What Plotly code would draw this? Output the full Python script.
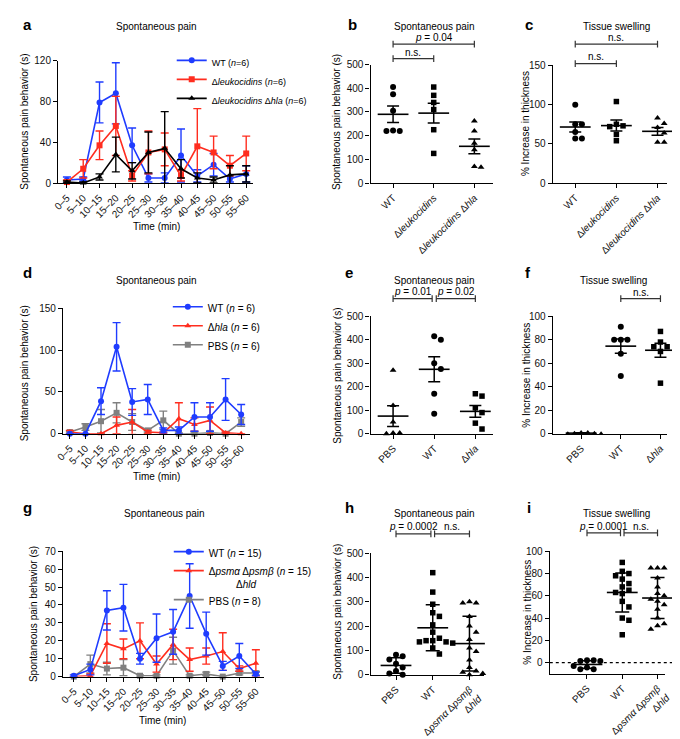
import plotly.graph_objects as go

# ---------------- data ----------------
TIME = ["0–5", "5–10", "10–15", "15–20", "20–25", "25–30",
        "30–35", "35–40", "40–45", "45–50", "50–55", "55–60"]

# panel a
a_wt = [3, 4, 79, 88, 37, 5, 5, 27, 7, 18, 4, 9]
a_wt_err = [3, 2, 20, 30, 17, 4, 5, 26, 6, 11, 3, 8]
a_leuk = [1, 14, 37, 56, 7, 30, 33, 7, 36, 30, 17, 29]
a_leuk_err = [2, 9, 14, 29, 5, 21, 16, 5, 37, 16, 10, 17]
a_dbl = [1, 0, 6, 28, 12, 30, 34, 14, 5, 3, 8, 9]
a_dbl_err = [1, 1, 3, 17, 8, 20, 36, 9, 5, 3, 9, 8]

# panel d
d_wt = [0, 0, 39, 104, 38, 41, 4, 4, 20, 20, 41, 23]
d_wt_err = [0, 0, 16, 29, 16, 18, 3, 4, 17, 17, 25, 12]
d_hla = [2, 0, 0, 10, 14, 2, 1, 18, 11, 16, 1, 0]
d_hla_err = [2, 0, 0, 10, 15, 2, 1, 19, 8, 16, 1, 0]
d_pbs = [2, 8, 15, 25, 14, 4, 16, 0, 0, 1, 0, 14]
d_pbs_err = [1, 4, 14, 12, 10, 2, 11, 1, 1, 2, 1, 5]

# panel g
g_wt = [0.5, 4, 37, 38.5, 10, 21.5, 25, 45, 24, 6, 11.5, 1.5]
g_wt_err = [0.5, 3, 11, 13, 3, 13.5, 12.5, 18, 12, 2.5, 7, 1]
g_psm = [0, 0.5, 18.5, 15.5, 20, 7, 18, 9.5, 11.5, 14, 4.5, 7.5]
g_psm_err = [0, 1, 11, 5.5, 10, 4.5, 8.5, 6.5, 4.5, 10.5, 1.5, 7.5]
g_pbs = [0, 7, 4.5, 5, 0.5, 0.5, 14.5, 0.5, 1.5, 0, 2, 2]
g_pbs_err = [0, 5, 3.5, 4.5, 0.5, 0.5, 7.5, 0.5, 1, 0.3, 1, 1]

# panel b
b_groups = ["WT", "Δ<i>leukocidins</i>", "Δ<i>leukocidins</i> Δ<i>hla</i>"]
b_wt = [405, 375, 305, 222, 220, 220]
b_leuk = [405, 370, 340, 310, 225, 125]
b_dbl = [262, 220, 168, 140, 70, 67]
b_mean = [290, 295, 155]
b_err = [35, 42, 31]

# panel c
c_groups = b_groups
c_wt = [100, 75, 75, 65, 57, 57]
c_leuk = [104, 75, 73, 72, 62, 54]
c_dbl = [83, 76, 71, 64, 52, 52]
c_mean = [71.5, 73.3, 66]
c_err = [6.5, 7, 5]

# panel e
e_groups = ["PBS", "WT", "Δ<i>hla</i>"]
e_pbs = [270, 120, 50, 3, 0, 3]
e_wt = [415, 400, 300, 275, 170, 85]
e_hla = [170, 160, 110, 90, 45, 20]
e_mean = [75, 274, 95]
e_err = [44, 53, 25]

# panel f
f_groups = e_groups
f_pbs = [1, 0.5, 0, 0, 0.5, 1]
f_wt = [91, 80, 80, 80, 68, 49]
f_hla = [87, 78, 74, 74, 70, 43]
f_mean = [0.5, 74.5, 71]
f_err = [0.3, 6, 6]

# panel h
h_groups = ["PBS", "WT", "Δ<i>psmα</i> Δ<i>psmβ</i><br>Δ<i>hld</i>"]
h_pbs = [82, 76, 62, 45, 30, 15, 5, 0]
h_wt = [420, 340, 290, 255, 240, 205, 175, 150, 140, 140, 135, 135, 130, 110, 85]
h_psm = [300, 295, 295, 240, 200, 175, 145, 110, 95, 60, 30, 15, 10, 5, 0]
h_mean = [38, 193, 128]
h_err = [32, 95, 113]

# panel i
i_groups = h_groups
i_pbs = [2, 2, 1.5, 1.5, -3, -4.5, -6, -6]
i_wt = [90, 82, 80, 78, 75, 71, 68, 65, 63, 62, 55, 50, 40, 38, 25]
i_psm = [85, 85, 85, 76, 68, 62, 60, 57, 55, 52, 48, 40, 35, 33, 30]
i_mean = [-1.7, 63, 58]
i_err = [3.3, 17.5, 18.5]

# ---------------- layout helpers ----------------
W, H = 680, 739
FONT = "Liberation Sans, Arial, sans-serif"
BLUE = "#1f3cff"
RED = "#ff2d1f"
GRAY = "#808080"
BLACK = "#000000"
BR = "#333333"


def PX(x):
    return x / W


def PY(y):
    return 1 - y / H


fig = go.Figure()
L = dict(width=W, height=H, margin=dict(l=0, r=0, t=0, b=0),
         paper_bgcolor="white", plot_bgcolor="white", showlegend=True,
         font=dict(family=FONT, size=10, color="black"))
shapes = []
ann = []


def sfx(k):
    return "" if k == 1 else str(k)


def axes(k, box, c0, sp, yrange, ytick, ticktext=None, cat=False):
    x0, x1, yt, yb = box
    xr = [(x0 - c0) / sp, (x1 - c0) / sp]
    common = dict(showline=True, linecolor="black", linewidth=1.3, ticks="outside",
                  ticklen=4, tickwidth=1.2, tickcolor="black", showgrid=False,
                  zeroline=False, tickfont=dict(size=10, family=FONT, color="#111"),
                  fixedrange=True)
    xa = dict(domain=[PX(x0), PX(x1)], range=xr, anchor="y" + sfx(k), tickangle=-45, **common)
    if cat:
        xa["type"] = "category"
    else:
        xa["tickvals"] = list(range(len(ticktext)))
        xa["ticktext"] = ticktext
    ya = dict(domain=[PY(yb), PY(yt)], range=yrange, anchor="x" + sfx(k), tickvals=ytick, **common)
    L["xaxis" + sfx(k)] = xa
    L["yaxis" + sfx(k)] = ya
    return (yb - yt) / (yrange[1] - yrange[0]), sp


def text(x, y, s, size=10, bold=False, angle=0, xanchor="center", xref="paper"):
    ann.append(dict(x=x if xref != "paper" else PX(x), y=PY(y), xref=xref, yref="paper",
                    text=("<b>%s</b>" % s) if bold else s, showarrow=False, textangle=angle,
                    xanchor=xanchor, yanchor="middle",
                    font=dict(size=size, family=FONT, color="black")))


def time_trace(k, y, err, color, symbol, name, leg):
    fig.add_trace(go.Scatter(
        x=TIME, y=y, mode="lines+markers", name=name, legend=leg,
        xaxis="x" + sfx(k), yaxis="y" + sfx(k), cliponaxis=False,
        line=dict(color=color, width=1.6),
        marker=dict(color=color, symbol=symbol, size=6),
        error_y=dict(type="data", array=err, color=color, thickness=1.4, width=4)))


def swarm(vals, ppu, sp, d=6.8):
    placed = []
    offs = [0.0] * len(vals)
    order = sorted(range(len(vals)), key=lambda i: -vals[i])
    for i in order:
        yp = vals[i] * ppu
        pos = None
        m = 0
        while pos is None:
            cands = [0.0] if m == 0 else [m * d, -m * d]
            for cx in cands:
                if all((cx - a) ** 2 + (yp - b) ** 2 >= (d * 0.92) ** 2 for a, b in placed):
                    pos = cx
                    break
            m += 1
        placed.append((pos, yp))
        offs[i] = pos / sp
    return offs


def dots(k, gi, vals, symbol, ppu, sp, size=6):
    offs = swarm(vals, ppu, sp)
    fig.add_trace(go.Scatter(
        x=[gi + o for o in offs], y=vals, mode="markers", showlegend=False,
        xaxis="x" + sfx(k), yaxis="y" + sfx(k), cliponaxis=False,
        marker=dict(color="black", symbol=symbol, size=size, line=dict(width=0))))


def meanbar(k, means, errs, capw=6):
    fig.add_trace(go.Scatter(
        x=list(range(len(means))), y=means, mode="markers", showlegend=False,
        xaxis="x" + sfx(k), yaxis="y" + sfx(k), cliponaxis=False,
        marker=dict(symbol="line-ew", size=22, line=dict(color="black", width=1.6)),
        error_y=dict(type="data", array=errs, color="black", thickness=1.5, width=capw)))


def bracket(k, c0, c1, ypx, label, typx):
    xr = "x" + sfx(k)
    ln = dict(color=BR, width=1.2)
    shapes.append(dict(type="line", xref=xr, yref="paper", x0=c0, x1=c1,
                       y0=PY(ypx), y1=PY(ypx), line=ln))
    for c in (c0, c1):
        shapes.append(dict(type="line", xref=xr, yref="paper", x0=c, x1=c,
                           y0=PY(ypx - 3.5), y1=PY(ypx + 3.5), line=ln))
    ann.append(dict(x=(c0 + c1) / 2, y=PY(typx), xref=xr, yref="paper", text=label,
                    showarrow=False, yanchor="middle",
                    font=dict(size=10, family=FONT, color="black")))


YT = "Spontaneous pain behavior (s)"
YS = "% Increase in thickness"

# ---------------- panel a ----------------
axes(1, (43, 242, 48, 174), 52, 16.64, [0, 120], [0, 40, 80, 120], cat=True)
time_trace(1, a_wt, a_wt_err, BLUE, "circle", "WT (<i>n</i>=6)", "legend")
time_trace(1, a_leuk, a_leuk_err, RED, "square", "Δ<i>leukocidins</i> (<i>n</i>=6)", "legend")
time_trace(1, a_dbl, a_dbl_err, BLACK, "triangle-up", "Δ<i>leukocidins</i> Δ<i>hla</i> (<i>n</i>=6)", "legend")
text(5, 11, "a", 15, True, xanchor="left")
text(143, 13, "Spontaneous pain")
text(9, 111, YT, angle=-90)
text(143, 219, "Time (min)")

# ---------------- panel b ----------------
ppu, sp = axes(2, (362, 487, 52, 174), 385, 41.5, [0, 500], [0, 100, 200, 300, 400, 500], b_groups)
dots(2, 0, b_wt, "circle", ppu, sp)
dots(2, 1, b_leuk, "square", ppu, sp, 5.5)
dots(2, 2, b_dbl, "triangle-up", ppu, sp)
meanbar(2, b_mean, b_err)
bracket(2, 0, 1, 46, "n.s.", 40)
bracket(2, 0, 2, 31, "<i>p</i> = 0.04", 24)
text(337, 11, "b", 15, True, xanchor="left")
text(427, 13, "Spontaneous pain")
text(328, 111, YT, angle=-90)

# ---------------- panel c ----------------
ppu, sp = axes(3, (548, 665, 53, 174), 571, 42, [0, 150], [0, 50, 100, 150], c_groups)
dots(3, 0, c_wt, "circle", ppu, sp)
dots(3, 1, c_leuk, "square", ppu, sp, 5.5)
dots(3, 2, c_dbl, "triangle-up", ppu, sp)
meanbar(3, c_mean, c_err)
bracket(3, 0, 1, 51, "n.s.", 44)
bracket(3, 0, 2, 31, "n.s.", 24)
text(518, 11, "c", 15, True, xanchor="left")
text(613, 13, "Tissue swelling")
text(521, 113, YS, angle=-90)

# ---------------- panel d ----------------
axes(4, (48, 239, 303, 432), 55, 15.9, [0, 150], [0, 50, 100, 150], cat=True)
time_trace(4, d_pbs, d_pbs_err, GRAY, "square", "PBS (<i>n</i> = 6)", "legend2")
time_trace(4, d_hla, d_hla_err, RED, "triangle-up", "Δ<i>hla</i> (<i>n</i> = 6)", "legend2")
time_trace(4, d_wt, d_wt_err, BLUE, "circle", "WT (<i>n</i> = 6)", "legend2")
text(5, 266, "d", 15, True, xanchor="left")
text(143, 274, "Spontaneous pain")
text(9, 370, YT, angle=-90)
text(143, 476, "Time (min)")

# ---------------- panel e ----------------
ppu, sp = axes(5, (362, 487, 311, 432), 385, 42, [0, 500], [0, 100, 200, 300, 400, 500], e_groups)
dots(5, 0, e_pbs, "triangle-up", ppu, sp)
dots(5, 1, e_wt, "circle", ppu, sp)
dots(5, 2, e_hla, "square", ppu, sp, 5.5)
meanbar(5, e_mean, e_err)
bracket(5, 0, 0.95, 293, "<i>p</i> = 0.01", 286)
bracket(5, 1.05, 2, 293, "<i>p</i> = 0.02", 286)
text(334, 266, "e", 15, True, xanchor="left")
text(427, 274, "Spontaneous pain")
text(328, 372, YT, angle=-90)

# ---------------- panel f ----------------
ppu, sp = axes(6, (548, 665, 311, 432), 577, 40.5, [0, 100], [0, 20, 40, 60, 80, 100], f_groups)
dots(6, 0, f_pbs, "triangle-up", ppu, sp, 5)
dots(6, 1, f_wt, "circle", ppu, sp)
dots(6, 2, f_hla, "square", ppu, sp, 5.5)
meanbar(6, f_mean, f_err)
bracket(6, 1, 2, 293, "n.s.", 287)
text(518, 266, "f", 15, True, xanchor="left")
text(610, 274, "Tissue swelling")
text(521, 372, YS, angle=-90)

# ---------------- panel g ----------------
axes(7, (48, 253, 553, 682), 59, 16.9, [0, 70], [0, 10, 20, 30, 40, 50, 60, 70], cat=True)
time_trace(7, g_pbs, g_pbs_err, GRAY, "square", "PBS (<i>n</i> = 8)", "legend3")
time_trace(7, g_psm, g_psm_err, RED, "triangle-up",
           "Δ<i>psmα</i> Δ<i>psmβ</i> (<i>n</i> = 15)<br>          Δ<i>hld</i>", "legend3")
time_trace(7, g_wt, g_wt_err, BLUE, "circle", "WT (<i>n</i> = 15)", "legend3")
text(5, 508, "g", 15, True, xanchor="left")
text(152, 514, "Spontaneous pain")
text(18, 618, YT, angle=-90)
text(150, 727, "Time (min)")

# ---------------- panel h ----------------
ppu, sp = axes(8, (362, 478, 555, 680), 388, 37.5, [0, 500], [0, 100, 200, 300, 400, 500], h_groups)
dots(8, 0, h_pbs, "circle", ppu, sp)
dots(8, 1, h_wt, "square", ppu, sp, 5.5)
dots(8, 2, h_psm, "triangle-up", ppu, sp)
meanbar(8, h_mean, h_err, 7)
bracket(8, 0, 0.95, 535, "<i>p</i> = 0.0002", 527)
bracket(8, 1.05, 2, 535, "n.s.", 527)
text(334, 508, "h", 15, True, xanchor="left")
text(427, 514, "Spontaneous pain")
text(328, 615, YT, angle=-90)

# ---------------- panel i ----------------
ppu, sp = axes(9, (545, 663, 553, 679), 583, 36, [-10, 100], [0, 20, 40, 60, 80, 100], i_groups)
shapes.append(dict(type="line", xref="paper", yref="y9", x0=PX(545), x1=PX(680), y0=0, y1=0,
                   line=dict(color="black", width=1.3, dash="dot")))
dots(9, 0, i_pbs, "circle", ppu, sp)
dots(9, 1, i_wt, "square", ppu, sp, 5.5)
dots(9, 2, i_psm, "triangle-up", ppu, sp)
meanbar(9, i_mean, i_err, 7)
bracket(9, 0, 0.95, 534, "<i>p</i> = 0.0001", 527)
bracket(9, 1.05, 2, 534, "n.s.", 527)
text(520, 508, "i", 15, True, xanchor="left")
text(613, 514, "Tissue swelling")
text(522, 616, YS, angle=-90)

# ---------------- legends ----------------
legcommon = dict(xanchor="left", yanchor="top", bgcolor="rgba(0,0,0,0)", borderwidth=0,
                 itemwidth=30, tracegroupgap=0, traceorder="reversed", valign="top",
                 itemclick=False, itemdoubleclick=False)
L["legend"] = dict(x=PX(159), y=PY(35), font=dict(size=9, family=FONT, color="black"), **legcommon)
L["legend"]["traceorder"] = "normal"
L["legend2"] = dict(x=PX(155), y=PY(288), font=dict(size=10, family=FONT, color="black"), **legcommon)
L["legend3"] = dict(x=PX(156), y=PY(540), font=dict(size=10, family=FONT, color="black"), **legcommon)

L["shapes"] = shapes
L["annotations"] = ann
fig.update_layout(**L)
fig.write_html("out.html")
